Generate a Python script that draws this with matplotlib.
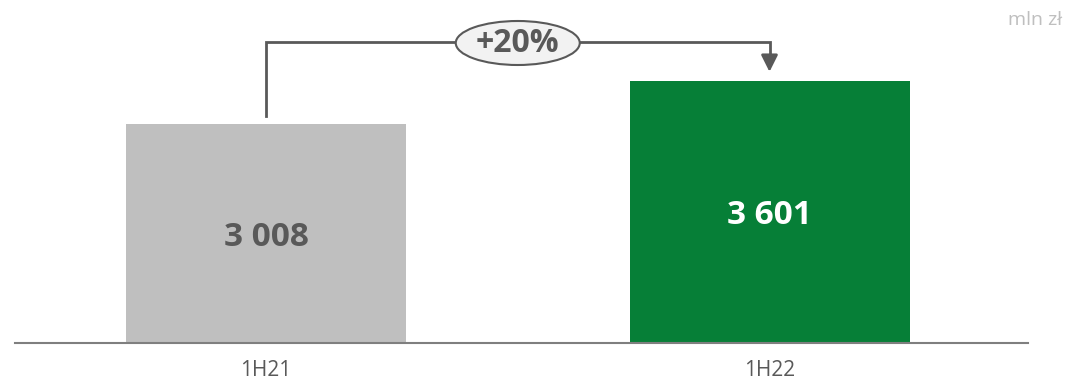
import matplotlib
matplotlib.use("Agg")
import matplotlib.pyplot as plt
from matplotlib.patches import Ellipse

categories = ["1H21", "1H22"]
values = [3008, 3601]
value_labels = ["3 008", "3 601"]
change_label = "+20%"
unit_label = "mln zł"

bar_colors = ["#bfbfbf", "#067f37"]
label_colors = ["#595959", "#ffffff"]
dark = "#595959"

plt.rcParams['font.family'] = ['Open Sans', 'DejaVu Sans']

W, H = 1066, 381
fig = plt.figure(figsize=(W / 100, H / 100), dpi=100)
base_px = 38
ax = fig.add_axes([0, base_px / H, 1, (H - base_px) / H])
ax.axis('off')

px_per_unit = 219 / 3008
x0_px, dx_px = 266, 503.5
ax.set_xlim((0 - x0_px) / dx_px, (W - x0_px) / dx_px)
ax.set_ylim(0, (H - base_px) / px_per_unit)

xs = list(range(len(categories)))
bw = 280 / dx_px
ax.bar(xs, values, width=bw, color=bar_colors, zorder=2)

# baseline
ax.axhline(0, xmin=15 / W, xmax=1028 / W, color="#7f7f7f", lw=1.5, zorder=3, clip_on=False)

for x, v, lab, c in zip(xs, values, value_labels, label_colors):
    ax.text(x, v / 2 - 4 / px_per_unit, lab, ha='center', va='center', color=c,
            fontsize=24, fontweight='bold', zorder=4)

for x, cat in zip(xs, categories):
    ax.text(x, -28 / px_per_unit, cat, ha='center', va='center', color=dark,
            fontsize=15, clip_on=False)

# connector
y_top = (343 - 42) / px_per_unit
y_start = values[0] + 8 / px_per_unit
y_end = values[1] + 9 / px_per_unit
ax.plot([xs[0], xs[0], xs[1], xs[1]], [y_start, y_top, y_top, y_end + 15 / px_per_unit],
        color=dark, lw=2, solid_joinstyle='miter', zorder=3)
ax.annotate("", xy=(xs[1], y_end), xytext=(xs[1], y_end + 16 / px_per_unit),
            arrowprops=dict(arrowstyle="-|>,head_length=1.0,head_width=0.5",
                            color=dark, lw=2, shrinkA=0, shrinkB=0), zorder=3)

mid = (xs[0] + xs[1]) / 2
ell = Ellipse((mid, (343 - 43) / px_per_unit), width=124 / dx_px, height=44 / px_per_unit,
              facecolor="#f2f2f2", edgecolor=dark, lw=1.5, zorder=4)
ax.add_patch(ell)
ax.text(mid, (343 - 44) / px_per_unit, change_label, ha='center', va='center',
        color=dark, fontsize=23, fontweight='bold', zorder=5)

fig.text(1062 / W, 1 - 20 / H, unit_label, ha='right', va='center', color="#bfbfbf", fontsize=14)

fig.savefig("out.png", dpi=100, facecolor="white")
